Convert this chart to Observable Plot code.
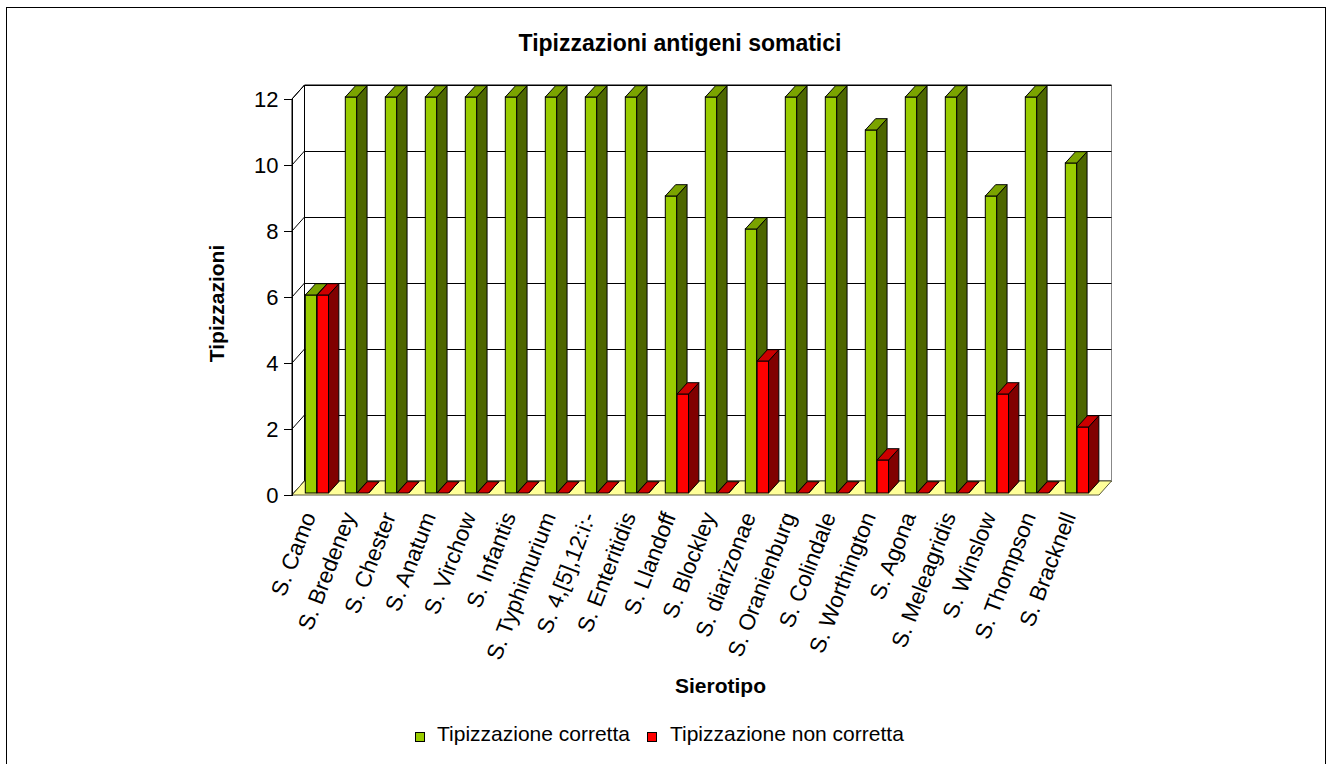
<!DOCTYPE html>
<html><head><meta charset="utf-8">
<script src="https://cdn.jsdelivr.net/npm/d3@7"></script>
<script src="https://cdn.jsdelivr.net/npm/@observablehq/plot@0.6"></script>
<style>
html,body{margin:0;padding:0;overflow:hidden;background:#fff;width:1327px;height:764px;}
body{font-family:"Liberation Sans",Arial,Helvetica,sans-serif;color:#000;position:relative;}
#border{position:absolute;left:6px;top:7px;width:1320px;height:800px;border:1px solid #000;box-sizing:border-box;}
#title{position:absolute;left:680px;top:32px;transform:translateX(-50%);font-size:23px;font-weight:bold;line-height:23px;white-space:nowrap;}
#chart{position:absolute;left:0;top:60px;}
#legend{position:absolute;left:415px;top:723px;display:flex;align-items:center;font-size:21px;line-height:21px;white-space:nowrap;}
.sw{width:10px;height:10px;border:1px solid #000;box-sizing:border-box;position:relative;top:3px;}
</style></head>
<body>
<div id="border"></div>
<div id="title">Tipizzazioni antigeni somatici</div>
<div id="chart"></div>
<div id="legend"></div>
<script>
// ---- data ----
const categories = ["S. Camo","S. Bredeney","S. Chester","S. Anatum","S. Virchow","S. Infantis","S. Typhimurium","S. 4,[5],12:i:-","S. Enteritidis","S. Llandoff","S. Blockley","S. diarizonae","S. Oranienburg","S. Colindale","S. Worthington","S. Agona","S. Meleagridis","S. Winslow","S. Thompson","S. Bracknell"];
const corretta    = [6,12,12,12,12,12,12,12,12,9,12,8,12,12,11,12,12,9,12,10];
const nonCorretta = [6,0,0,0,0,0,0,0,0,3,0,4,0,0,1,0,0,3,0,2];
const yTicks = [0,2,4,6,8,10,12];
const seriesNames = ["Tipizzazione corretta","Tipizzazione non corretta"];
const xTitle = "Sierotipo";
const yTitle = "Tipizzazioni";

// ---- styles ----
const colors = [
  {front:"#99CC00", side:"#4D6600", top:"#7AA300"},
  {front:"#FF0000", side:"#800000", top:"#CC0000"}
];
const insets = [[9.3, 19.25],[21.1, 7.45]];
const WX = 12.5, WY = 14;     // wall depth
const DX = 10.3, DY = 11.3;   // bar depth
const BAR_DY = -2;

const rowsG = categories.map((c,i)=>({cat:c, v:corretta[i]}));
const rowsR = categories.map((c,i)=>({cat:c, v:nonCorretta[i]}));

function walls(index, scales, values, dim) {
  const {y} = scales;
  const xl = dim.marginLeft, xr = dim.width - dim.marginRight;
  const y0 = y(0), y12 = y(12);
  const g = d3.create("svg:g");
  g.append("path").attr("fill","#fff").attr("stroke","#000")
    .attr("d",`M${xl+WX},${y12-WY}H${xr+WX}V${y0-WY}H${xl+WX}Z`);
  g.append("line").attr("x1",xr+WX).attr("x2",xr+WX).attr("y1",y12-WY).attr("y2",y0-WY).attr("stroke","#888");
  g.append("path").attr("fill","#fff").attr("stroke","#000")
    .attr("d",`M${xl},${y12}L${xl+WX},${y12-WY}V${y0-WY}L${xl},${y0}Z`);
  for (const t of yTicks) {
    g.append("line").attr("x1",xl).attr("y1",y(t)).attr("x2",xl+WX).attr("y2",y(t)-WY).attr("stroke","#000");
  }
  return g.node();
}
function floor(index, scales, values, dim) {
  const {y} = scales;
  const xl = dim.marginLeft, xr = dim.width - dim.marginRight;
  const y0 = y(0);
  return d3.create("svg:path").attr("fill","#FFFF99").attr("stroke","#5a5a3a")
    .attr("d",`M${xl},${y0}H${xr}L${xr+WX},${y0-WY}H${xl+WX}Z`).node();
}
function faces(rows, k) {
  return (index, scales) => {
    const {x, y} = scales;
    const bw = x.bandwidth();
    const g = d3.create("svg:g").attr("stroke","#000").attr("stroke-width",1);
    for (const r of rows) {
      const x0 = x(r.cat) + insets[k][0], x1 = x(r.cat) + bw - insets[k][1];
      const yt = y(r.v) + BAR_DY, yb = y(0) + BAR_DY;
      g.append("path").attr("fill", colors[k].side)
        .attr("d",`M${x1},${yt}L${x1+DX},${yt-DY}L${x1+DX},${yb-DY}L${x1},${yb}Z`);
      g.append("path").attr("fill", colors[k].top)
        .attr("d",`M${x0},${yt}L${x1},${yt}L${x1+DX},${yt-DY}L${x0+DX},${yt-DY}Z`);
    }
    return g.node();
  };
}

const chart = Plot.plot({
  width: 1327, height: 640,
  marginLeft: 292, marginRight: 228, marginTop: 39, marginBottom: 205,
  style: {fontFamily:'"Liberation Sans", Arial, sans-serif', fontSize:"22px", color:"#000", background:"transparent", overflow:"visible"},
  x: {domain: categories, padding: 0, label: null, axis: null},
  y: {domain: [0, 12], label: null, axis: null},
  marks: [
    walls,
    Plot.ruleY(yTicks, {y: d=>d, dx: WX, dy: -WY, stroke: "#000"}),
    floor,
    Plot.frame({anchor: "left", stroke: "#000"}),
    Plot.axisY({ticks: yTicks, tickSize: 8, tickPadding: 6, fontSize: 22, stroke: "#000", fill: "#000"}),
    Plot.barY(rowsG, {x: "cat", y: "v", fill: colors[0].front, stroke: "#000", insetLeft: insets[0][0], insetRight: insets[0][1], dy: BAR_DY}),
    faces(rowsG, 0),
    Plot.barY(rowsR, {x: "cat", y: "v", fill: colors[1].front, stroke: "#000", insetLeft: insets[1][0], insetRight: insets[1][1], dy: BAR_DY}),
    faces(rowsR, 1),
    Plot.axisX({tickSize: 0, tickRotate: -69, tickPadding: 18, fontSize: 22.5, fill: "#000", dx: -7}),
    Plot.text([xTitle], {frameAnchor: "bottom", dx: 24.5, dy: 197, lineAnchor: "bottom", textAnchor: "middle", fontWeight: "bold", fontSize: 21, fill: "#000"}),
    Plot.text([yTitle], {frameAnchor: "left", dx: -75, dy: 6, rotate: -90, textAnchor: "middle", lineAnchor: "middle", fontWeight: "bold", fontSize: 21, fill: "#000"})
  ]
});
document.getElementById("chart").appendChild(chart);

const legend = document.getElementById("legend");
seriesNames.forEach((n,i)=>{
  const sw = document.createElement("div");
  sw.className = "sw"; sw.style.background = colors[i].front;
  sw.style.marginRight = i===0 ? "12px" : "13px";
  sw.style.marginLeft = i===0 ? "0" : "17px";
  const t = document.createElement("span"); t.textContent = n;
  legend.appendChild(sw); legend.appendChild(t);
});
</script>
</body></html>
